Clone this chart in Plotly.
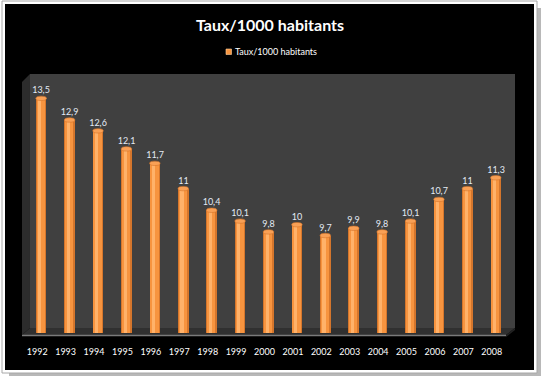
import plotly.graph_objects as go

years = ["1992", "1993", "1994", "1995", "1996", "1997", "1998", "1999", "2000",
         "2001", "2002", "2003", "2004", "2005", "2006", "2007", "2008"]
values = [13.5, 12.9, 12.6, 12.1, 11.7, 11.0, 10.4, 10.1, 9.8,
          10.0, 9.7, 9.9, 9.8, 10.1, 10.7, 11.0, 11.3]
series_name = "Taux/1000 habitants"
title_text = "Taux/1000 habitants"
labels = [f"{v:g}".replace(".", ",") for v in values]

W, H = 544, 378
L, R, T, B = 27, 510, 74, 333
PW, PH = R - L, B - T
YMIN = 7.0
PX_PER_UNIT = 36.1
YMAX = YMIN + PH / PX_PER_UNIT


def px(x):
    return (x - L) / PW


def py(y):
    return (B - y) / PH


def poly(pts):
    return "M " + " L ".join(f"{px(x):.5f},{py(y):.5f}" for x, y in pts) + " Z"


fig = go.Figure()

# cylinder-like bars: dark edge, body, highlight
fig.add_trace(go.Bar(x=years, y=values, width=0.37, marker=dict(color="#D5762C", line=dict(width=0)),
                     text=labels, textposition="outside", cliponaxis=False,
                     textfont=dict(family="Lato", size=9, color="#E4EAF4"),
                     constraintext="none", name=series_name, showlegend=False, hoverinfo="x+y"))
fig.add_trace(go.Bar(x=years, y=values, width=0.29, offset=-0.16,
                     marker=dict(color="#F7943F", line=dict(width=0)),
                     showlegend=False, hoverinfo="skip"))
fig.add_trace(go.Bar(x=years, y=values, width=0.11, offset=-0.10,
                     marker=dict(color="#FFB26A", line=dict(width=0)),
                     showlegend=False, hoverinfo="skip"))

shapes = []
# frame shadow, white border, black chart area
shapes.append(dict(type="rect", xref="paper", yref="paper", x0=px(9), x1=px(541), y0=py(8), y1=py(376),
                   fillcolor="#B8B8B8", line=dict(width=0), layer="below"))
shapes.append(dict(type="rect", xref="paper", yref="paper", x0=px(2), x1=px(537), y0=py(1), y1=py(373),
                   fillcolor="#FFFFFF", line=dict(width=1, color="#A8A8A8"), layer="below"))
shapes.append(dict(type="rect", xref="paper", yref="paper", x0=px(5), x1=px(534), y0=py(4), y1=py(370),
                   fillcolor="#000000", line=dict(width=0), layer="below"))
# back wall
shapes.append(dict(type="rect", xref="paper", yref="paper", x0=px(30), x1=px(515), y0=py(328), y1=py(74),
                   fillcolor="#404040", line=dict(width=0), layer="below"))
# left side wall
shapes.append(dict(type="path", xref="paper", yref="paper",
                   path=poly([(22, 82), (30, 74), (30, 328), (22, 335)]),
                   fillcolor="#2C2C2C", line=dict(width=0), layer="below"))
# floor
shapes.append(dict(type="path", xref="paper", yref="paper",
                   path=poly([(22, 335), (30, 328), (515, 328), (506, 335)]),
                   fillcolor="#303030", line=dict(width=0), layer="below"))
shapes.append(dict(type="path", xref="paper", yref="paper",
                   path=poly([(506, 335), (515, 328), (515, 330), (506, 337)]),
                   fillcolor="#222222", line=dict(width=0), layer="below"))
shapes.append(dict(type="line", xref="paper", yref="paper", x0=px(22), x1=px(506), y0=py(335.5), y1=py(335.5),
                   line=dict(width=1.5, color="#7A7A7A"), layer="below"))

# rounded tops of the cylinders
cap = 2.2 / PX_PER_UNIT
for i, v in enumerate(values):
    shapes.append(dict(type="circle", xref="x", yref="y", x0=i - 0.185, x1=i + 0.185,
                       y0=v - cap, y1=v + cap, fillcolor="#F9A055",
                       line=dict(width=0.6, color="#D5762C"), layer="above"))

# legend key
shapes.append(dict(type="rect", xref="paper", yref="paper", x0=px(226), x1=px(231.5), y0=py(54.5), y1=py(49),
                   fillcolor="#F7943F", line=dict(width=0.6, color="#FFD0A0"), layer="above"))

annotations = [
    dict(text=f"<b>{title_text}</b>", xref="paper", yref="paper", x=px(269.5), y=py(25),
         xanchor="center", yanchor="middle", showarrow=False,
         font=dict(family="Lato", size=16, color="#FFFFFF")),
    dict(text=series_name, xref="paper", yref="paper", x=px(233), y=py(52),
         xanchor="left", yanchor="middle", showarrow=False,
         font=dict(family="Lato", size=9, color="#FFFFFF")),
]

fig.update_layout(
    width=W, height=H,
    margin=dict(l=L, r=W - R, t=T, b=H - B, pad=0),
    paper_bgcolor="#FFFFFF", plot_bgcolor="rgba(0,0,0,0)",
    barmode="overlay", bargap=0,
    showlegend=False,
    shapes=shapes, annotations=annotations,
    xaxis=dict(type="category", showgrid=False, zeroline=False, showline=False, ticks="",
               tickfont=dict(family="Lato", size=9, color="#FFFFFF"),
               ticklabelstandoff=12, ticklabelshift=-4, fixedrange=True),
    yaxis=dict(range=[YMIN, YMAX], visible=False, fixedrange=True),
)

fig.write_html("out.html")
